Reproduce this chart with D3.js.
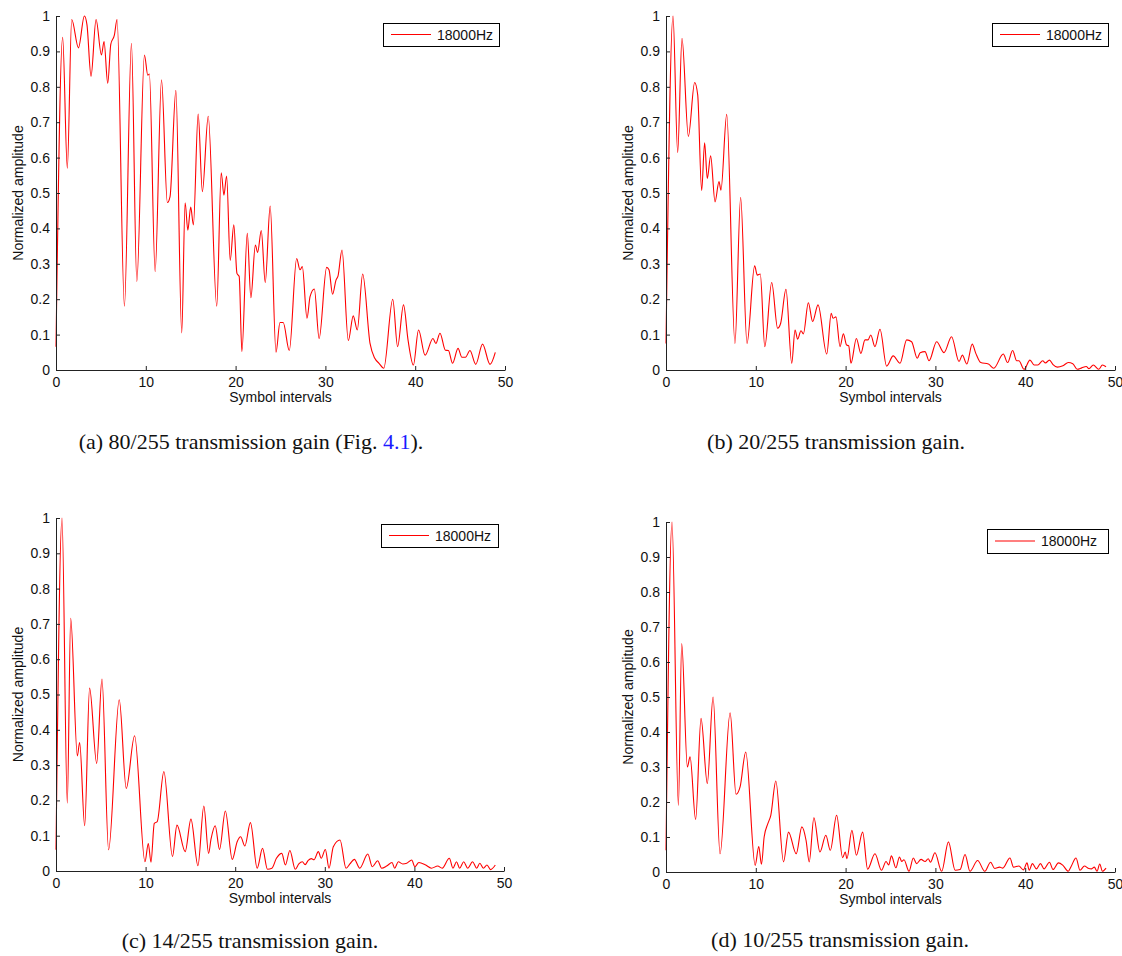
<!DOCTYPE html>
<html>
<head>
<meta charset="utf-8">
<script src="https://cdn.jsdelivr.net/npm/d3@7"></script>
<style>
  html, body { margin: 0; padding: 0; background: #fff; }
  svg { display: block; }
  .axis text { font-family: "Liberation Sans", Arial, Helvetica, sans-serif; font-size: 14px; fill: #111; }
  .axis path, .axis line { stroke: #222; stroke-width: 1; }
  .label { font-family: "Liberation Sans", Arial, Helvetica, sans-serif; font-size: 14px; fill: #111; }
  .caption { font-family: "Liberation Serif", "Times New Roman", serif; font-size: 22px; fill: #111; }
</style>
</head>
<body>
<svg id="fig" width="1122" height="956"></svg>
<script>
// Impulse-response envelopes, [symbol interval, normalized amplitude]
const gain80 = [
  [0,0.066],[0.74,0.94],[1.26,0.57],[1.75,0.99],[2.5,0.91],[3.16,1.0],[3.45,0.975],[3.9,0.83],
  [4.46,0.99],[5.06,0.89],[5.35,0.928],[5.76,0.81],[6.1,0.92],[6.5,0.946],[6.8,0.99],[7.62,0.18],
  [8.4,0.923],[9.0,0.25],[9.85,0.89],[10.22,0.833],[10.4,0.836],[11.04,0.278],[11.75,0.82],
  [12.4,0.473],[12.7,0.49],[13.35,0.79],[14.0,0.105],[14.38,0.472],[14.68,0.395],[15.0,0.46],
  [15.3,0.41],[15.83,0.723],[16.3,0.504],[16.95,0.717],[17.9,0.18],[18.4,0.557],[18.7,0.494],
  [19.0,0.548],[19.4,0.31],[19.8,0.41],[20.15,0.273],[20.4,0.264],[20.7,0.052],[21.3,0.386],
  [21.7,0.204],[22.2,0.353],[22.45,0.332],[22.86,0.394],[23.3,0.247],[23.85,0.463],[24.5,0.05],
  [24.94,0.134],[25.3,0.134],[25.98,0.055],[26.8,0.315],[27.17,0.283],[27.43,0.292],[27.95,0.146],
  [28.29,0.207],[28.77,0.229],[29.3,0.089],[30.14,0.29],[30.4,0.283],[30.8,0.214],[31.18,0.254],
  [31.4,0.265],[31.85,0.339],[32.55,0.083],[33.1,0.153],[33.55,0.113],[34.15,0.271],[34.97,0.075],
  [35.5,0.033],[35.97,0.019],[36.5,0.005],[37.5,0.2],[38.04,0.066],[38.7,0.184],[39.2,0.085],
  [39.8,0.014],[40.37,0.113],[41.1,0.042],[41.98,0.089],[42.3,0.075],[42.76,0.104],[43.36,0.056],
  [43.7,0.055],[44.16,0.019],[44.77,0.061],[45.2,0.036],[45.6,0.036],[46.1,0.055],[46.74,0.016],
  [47.5,0.073],[48.33,0.016],[48.92,0.05]
];

const gain20 = [
  [0,0.075],[0.78,1.0],[1.3,0.614],[1.78,0.937],[2.49,0.66],[3.19,0.812],[3.53,0.777],[3.97,0.507],
  [4.3,0.642],[4.6,0.541],[4.97,0.605],[5.46,0.475],[5.9,0.532],[6.12,0.508],[6.76,0.722],[7.68,0.075],
  [8.31,0.488],[9.02,0.075],[9.87,0.294],[10.17,0.268],[10.5,0.271],[11.0,0.066],[11.77,0.247],
  [12.43,0.118],[12.77,0.132],[13.36,0.228],[14.0,0.019],[14.37,0.113],[14.66,0.087],[15.03,0.111],
  [15.3,0.102],[15.85,0.19],[16.33,0.137],[16.93,0.184],[17.9,0.045],[18.4,0.16],[18.6,0.146],
  [18.93,0.15],[19.38,0.066],[19.75,0.102],[20.1,0.071],[20.35,0.068],[20.6,0.019],[21.2,0.089],
  [21.7,0.047],[22.16,0.085],[22.5,0.085],[22.8,0.099],[23.27,0.066],[23.83,0.115],[24.57,0.011],
  [25.3,0.04],[26.06,0.019],[26.8,0.085],[27.35,0.08],[27.98,0.033],[28.3,0.049],[28.84,0.052],
  [29.29,0.026],[30.14,0.08],[30.96,0.049],[31.8,0.094],[32.63,0.024],[33.0,0.042],[33.5,0.017],
  [34.1,0.073],[34.5,0.047],[35.05,0.021],[35.9,0.017],[36.5,0.005],[37.56,0.045],[38.04,0.021],
  [38.6,0.055],[39.05,0.026],[39.3,0.026],[39.87,0.002],[40.53,0.028],[41.0,0.014],[41.4,0.014],
  [41.95,0.026],[42.25,0.02],[42.7,0.028],[43.1,0.015],[43.58,0.008],[44.2,0.012],[44.8,0.021],
  [45.3,0.018],[45.8,0.002],[46.3,0.006],[46.8,0.01],[47.1,0.004],[47.58,0.014],[48.18,0.002],
  [48.6,0.014],[49.0,0.009]
];

const gain14 = [
  [0,0.06],[0.67,1.0],[1.26,0.192],[1.64,0.716],[2.38,0.326],[2.64,0.364],[3.2,0.128],[3.75,0.518],
  [4.54,0.305],[5.13,0.544],[5.87,0.06],[7.06,0.485],[7.84,0.234],[8.77,0.383],[9.93,0.026],
  [10.3,0.078],[10.6,0.025],[10.97,0.135],[11.3,0.14],[12.04,0.282],[13.0,0.041],[13.5,0.13],
  [14.42,0.055],[15.06,0.147],[15.84,0.015],[16.5,0.184],[17.03,0.05],[17.3,0.09],[17.77,0.128],
  [18.25,0.061],[18.9,0.17],[19.67,0.033],[20.22,0.083],[20.6,0.097],[21.08,0.071],[21.7,0.137],
  [22.45,0.008],[23.05,0.064],[23.6,0.005],[24.1,0.008],[24.6,0.036],[25.2,0.05],[25.6,0.017],
  [26.1,0.058],[26.7,0.005],[27.1,0.02],[27.5,0.026],[27.8,0.018],[28.15,0.03],[28.5,0.035],
  [28.8,0.032],[29.28,0.055],[29.6,0.036],[30.06,0.061],[30.47,0.008],[30.95,0.069],[31.7,0.088],
  [32.37,0.008],[32.8,0.02],[33.3,0.033],[33.9,0.008],[34.8,0.048],[35.3,0.012],[35.9,0.029],
  [36.35,0.008],[36.9,0.014],[37.5,0.024],[37.8,0.008],[38.2,0.026],[38.7,0.02],[39.15,0.022],
  [39.7,0.031],[40.05,0.012],[40.5,0.024],[41.2,0.018],[41.9,0.008],[42.6,0.014],[43.1,0.008],
  [43.9,0.036],[44.3,0.008],[44.7,0.026],[45.05,0.008],[45.5,0.026],[45.95,0.008],[46.5,0.026],
  [46.95,0.008],[47.3,0.022],[47.7,0.008],[48.1,0.017],[48.5,0.004],[49.03,0.017]
];

const gain10 = [
  [0,0.062],[0.67,1.0],[1.38,0.19],[1.75,0.653],[2.38,0.3],[2.68,0.329],[3.3,0.15],[3.9,0.439],
  [4.6,0.253],[5.24,0.5],[6.02,0.052],[7.14,0.455],[7.8,0.222],[8.25,0.243],[8.88,0.343],[9.93,0.019],
  [10.33,0.073],[10.63,0.022],[10.93,0.1],[11.34,0.138],[11.67,0.162],[12.23,0.26],[13.09,0.029],
  [13.64,0.114],[14.5,0.052],[15.13,0.129],[15.6,0.09],[15.95,0.029],[16.47,0.155],[17.14,0.057],
  [17.8,0.105],[18.3,0.062],[19.0,0.162],[19.67,0.041],[19.96,0.057],[20.15,0.038],[20.7,0.119],
  [21.2,0.048],[21.9,0.114],[22.45,0.008],[23.27,0.052],[24.0,0.005],[24.5,0.03],[24.8,0.02],
  [25.1,0.046],[25.6,0.012],[26.0,0.043],[26.25,0.03],[26.5,0.035],[27.06,0.002],[27.54,0.04],
  [27.9,0.024],[28.4,0.036],[28.85,0.03],[29.2,0.038],[29.45,0.028],[29.95,0.055],[30.7,0.002],
  [31.45,0.086],[32.2,0.005],[32.75,0.007],[33.3,0.05],[33.85,0.002],[34.7,0.033],[35.5,0.002],
  [36.15,0.028],[36.6,0.01],[37.15,0.014],[37.5,0.011],[38.3,0.04],[38.7,0.014],[39.3,0.017],
  [39.8,0.006],[40.2,0.026],[40.45,0.005],[40.8,0.024],[41.25,0.009],[41.7,0.024],[42.1,0.009],
  [42.7,0.028],[43.1,0.007],[43.7,0.026],[44.2,0.019],[44.8,0.002],[45.1,0.015],[45.66,0.04],
  [46.1,0.005],[46.6,0.017],[47.0,0.011],[47.4,0.009],[47.7,0.014],[48.0,0.002],[48.3,0.023],
  [48.6,0.002],[49.0,0.011]
];

const xTicks = [0, 10, 20, 30, 40, 50];
const yTicks = [0, 0.1, 0.2, 0.3, 0.4, 0.5, 0.6, 0.7, 0.8, 0.9, 1];
const yTickLabels = ["0", "0.1", "0.2", "0.3", "0.4", "0.5", "0.6", "0.7", "0.8", "0.9", "1"];
const seriesName = "18000Hz";
const xLabel = "Symbol intervals";
const yLabel = "Normalized amplitude";

// Panel frames and legend boxes, in page pixels
const panels = [
  { data: gain80, left: 56,  right: 505,  top: 16,  bottom: 370,
    legend: { x0: 383, x1: 499, y0: 23, y1: 46 },
    caption: { cx: 251, y: 449, parts: [["(a) 80/255 transmission gain (Fig. ", "#111"], ["4.1", "#1a1aff"], [").", "#111"]] } },
  { data: gain20, left: 666, right: 1115, top: 16,  bottom: 370,
    legend: { x0: 992, x1: 1108, y0: 23, y1: 46 },
    caption: { cx: 836, y: 449, parts: [["(b) 20/255 transmission gain.", "#111"]] } },
  { data: gain14, left: 56,  right: 504,  top: 518, bottom: 871,
    legend: { x0: 381, x1: 498, y0: 524, y1: 547 },
    caption: { cx: 250, y: 948, parts: [["(c) 14/255 transmission gain.", "#111"]] } },
  { data: gain10, left: 666, right: 1115, top: 522, bottom: 872,
    legend: { x0: 987, x1: 1108, y0: 529, y1: 553 },
    caption: { cx: 840, y: 947, parts: [["(d) 10/255 transmission gain.", "#111"]] } }
];

const svg = d3.select("#fig");

panels.forEach(p => {
  const x = d3.scaleLinear().domain([0, 50]).range([p.left, p.right]);
  const y = d3.scaleLinear().domain([0, 1]).range([p.bottom, p.top]);
  const g = svg.append("g");

  // Curve
  const line = d3.line()
    .x(d => x(d[0]))
    .y(d => y(d[1]))
    .curve(d3.curveMonotoneX);
  g.append("path")
    .datum(p.data)
    .attr("d", line)
    .attr("fill", "none")
    .attr("stroke", "#ff0000")
    .attr("stroke-width", 1.1)
    .attr("stroke-linejoin", "round");

  // Axes with inward ticks
  g.append("g")
    .attr("class", "axis")
    .attr("transform", `translate(0,${p.bottom})`)
    .call(d3.axisBottom(x).tickValues(xTicks).tickFormat(d3.format("d"))
      .tickSizeInner(-4).tickSizeOuter(0).tickPadding(7))
    .call(a => a.selectAll("text").attr("dy", "0.71em"));

  g.append("g")
    .attr("class", "axis")
    .attr("transform", `translate(${p.left},0)`)
    .call(d3.axisLeft(y).tickValues(yTicks).tickFormat((d, i) => yTickLabels[i])
      .tickSizeInner(-4).tickSizeOuter(0).tickPadding(6));

  // Axis titles
  g.append("text")
    .attr("class", "label")
    .attr("x", (p.left + p.right) / 2)
    .attr("y", p.bottom + 32)
    .attr("text-anchor", "middle")
    .text(xLabel);
  g.append("text")
    .attr("class", "label")
    .attr("transform", `translate(${p.left - 38},${(p.top + p.bottom) / 2}) rotate(-90)`)
    .attr("text-anchor", "middle")
    .attr("dy", "0.35em")
    .text(yLabel);

  // Legend
  const L = p.legend;
  const lg = g.append("g");
  lg.append("rect")
    .attr("x", L.x0 + 0.5).attr("y", L.y0 + 0.5)
    .attr("width", L.x1 - L.x0).attr("height", L.y1 - L.y0)
    .attr("fill", "#fff").attr("stroke", "#000").attr("stroke-width", 1);
  const ly = (L.y0 + L.y1) / 2;
  lg.append("line")
    .attr("x1", L.x0 + 8).attr("x2", L.x0 + 48)
    .attr("y1", ly).attr("y2", ly)
    .attr("stroke", "#ff0000").attr("stroke-width", 1.1);
  lg.append("text")
    .attr("class", "label")
    .attr("x", L.x0 + 54)
    .attr("y", ly)
    .attr("dy", "0.36em")
    .text(seriesName);

  // Caption
  const cap = svg.append("text")
    .attr("class", "caption")
    .attr("x", p.caption.cx)
    .attr("y", p.caption.y)
    .attr("text-anchor", "middle");
  p.caption.parts.forEach(([t, c]) => cap.append("tspan").attr("fill", c).text(t));
});
</script>
</body>
</html>
